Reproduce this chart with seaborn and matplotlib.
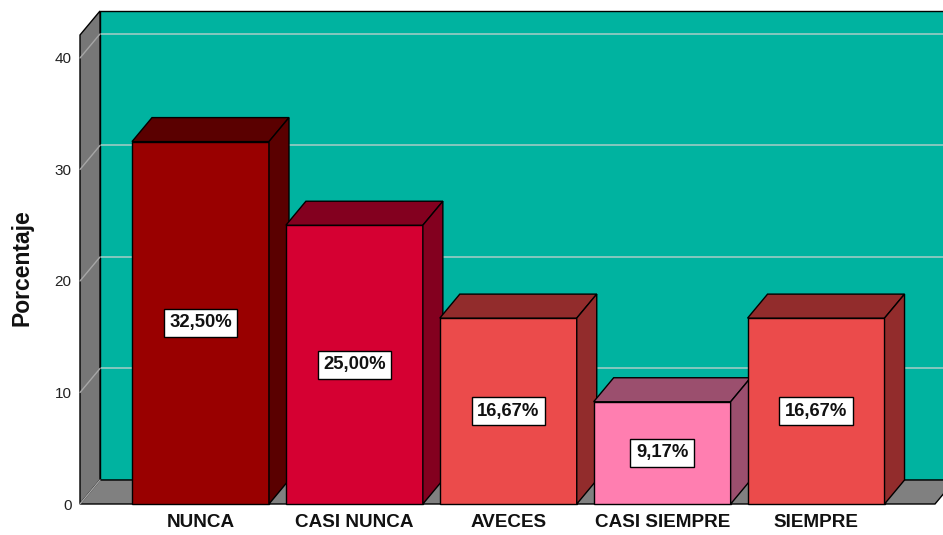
import matplotlib
matplotlib.use("Agg")
import matplotlib.pyplot as plt
import numpy as np
import pandas as pd
import seaborn as sns
from matplotlib.patches import Polygon

# ---- data ----
categories = ["NUNCA", "CASI NUNCA", "AVECES", "CASI SIEMPRE", "SIEMPRE"]
percentages = [32.50, 25.00, 16.67, 9.17, 16.67]
value_labels = ["32,50%", "25,00%", "16,67%", "9,17%", "16,67%"]
y_ticks = [0, 10, 20, 30, 40]

front_colors = ["#990000", "#D50032", "#EB4B4B", "#FF7EB0", "#EB4B4B"]
shade_colors = ["#5A0000", "#83001F", "#922C2C", "#9B4F6E", "#922C2C"]

sns.set_theme(style="white")
plt.rcParams["font.family"] = ["Liberation Sans", "DejaVu Sans"]

W, H = 943, 535
fig = plt.figure(figsize=(W / 100, H / 100), dpi=100)
ax = fig.add_axes([80 / W, 1 - 504 / H, 855 / W, (504 - 35) / H])

df = pd.DataFrame({"cat": categories, "pct": percentages})
sns.barplot(data=df, x="cat", y="pct", hue="cat", palette=front_colors,
            saturation=1, width=0.89, edgecolor="black", linewidth=1.0,
            legend=False, ax=ax)
bar_patches = list(ax.patches)

x0, x1 = -0.783, 4.773
ytop = 42.06
ax.set_xlim(x0, x1)
ax.set_ylim(0, ytop)

# depth offset (pixels) converted to data units
p0 = ax.transData.transform((0, 0))
dxd, dyd = ax.transData.inverted().transform(p0 + np.array([20, 24]))

# walls
back = Polygon([(x0 + dxd, dyd), (x1 + dxd, dyd), (x1 + dxd, ytop + dyd), (x0 + dxd, ytop + dyd)],
               closed=True, facecolor="#00B3A0", edgecolor="black", linewidth=1.0,
               zorder=0.5, clip_on=False)
ax.add_patch(back)
left = Polygon([(x0, 0), (x0, ytop), (x0 + dxd, ytop + dyd), (x0 + dxd, dyd)],
               closed=True, facecolor="#777777", edgecolor="black", linewidth=1.0,
               zorder=1, clip_on=False)
ax.add_patch(left)
floor = Polygon([(x0, 0), (x1, 0), (x1 + dxd, dyd), (x0 + dxd, dyd)],
                closed=True, facecolor="#808080", edgecolor="black", linewidth=1.0,
                zorder=1, clip_on=False)
ax.add_patch(floor)

for t in y_ticks:
    if t > 0:
        ax.plot([x0 + dxd, x1 + dxd], [t + dyd, t + dyd], color="#8FC9C1",
                linewidth=1.3, zorder=0.8, clip_on=False)
    ax.plot([x0, x0 + dxd], [t, t + dyd], color="#A6A6A6", linewidth=1.0,
            zorder=1.2, clip_on=False)

# bars with 3D top and side faces
for i, patch in enumerate(bar_patches):
    patch.set_zorder(10 + 3 * i)
    patch.set_clip_on(False)
    x = patch.get_x()
    w = patch.get_width()
    h = patch.get_height()
    top = Polygon([(x, h), (x + w, h), (x + w + dxd, h + dyd), (x + dxd, h + dyd)],
                  closed=True, facecolor=shade_colors[i], edgecolor="black",
                  linewidth=1.0, zorder=10 + 3 * i + 1, clip_on=False)
    side = Polygon([(x + w, 0), (x + w, h), (x + w + dxd, h + dyd), (x + w + dxd, dyd)],
                   closed=True, facecolor=shade_colors[i], edgecolor="black",
                   linewidth=1.0, zorder=10 + 3 * i + 1, clip_on=False)
    ax.add_patch(top)
    ax.add_patch(side)
    ax.text(x + w / 2, h / 2, value_labels[i], ha="center", va="center",
            fontsize=13.3, fontweight="bold", color="#111111", zorder=40,
            bbox=dict(boxstyle="square,pad=0.3", facecolor="white",
                      edgecolor="black", linewidth=1.0))

# axes styling
for s in ax.spines.values():
    s.set_visible(False)
ax.patch.set_visible(False)
ax.set_yticks(y_ticks)
ax.set_yticklabels([str(t) for t in y_ticks], fontsize=11, color="#222222")
ax.set_xticks(range(len(categories)))
ax.set_xticklabels(categories, fontsize=13.6, fontweight="bold", color="#111111")
ax.tick_params(axis="y", length=0, pad=6)
ax.tick_params(axis="x", length=0, pad=7)
ax.set_xlabel("")
ax.set_ylabel("")
fig.text(22 / W, 1 - 268 / H, "Porcentaje", rotation=90, ha="center", va="center",
         fontsize=16.5, fontweight="bold", color="#111111")

fig.savefig("out.png", dpi=100)
